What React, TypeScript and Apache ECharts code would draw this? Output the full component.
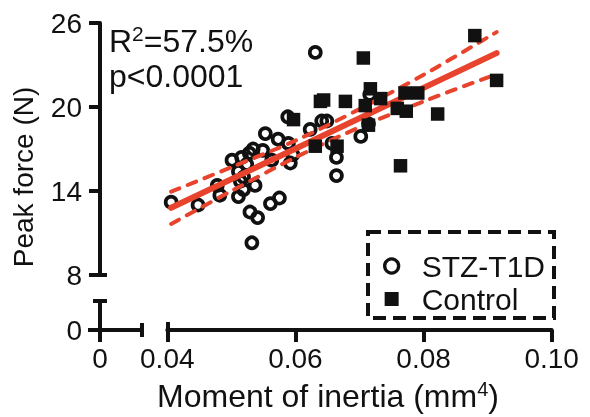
import React, { useEffect, useRef } from 'react';
import * as echarts from 'echarts';

// STZ-T1D (open circles)
const stzX = [0.0406, 0.0448, 0.0478, 0.0482, 0.0501, 0.0511, 0.0516, 0.0528, 0.0534, 0.0524, 0.0519, 0.0514, 0.0519, 0.0511, 0.0537, 0.0529, 0.0541, 0.0532, 0.0561, 0.0575, 0.0549, 0.0553, 0.0573, 0.0563, 0.0589, 0.0596, 0.0592, 0.0588, 0.0623, 0.0641, 0.0649, 0.0657, 0.0664, 0.0664, 0.0631, 0.0702, 0.0716, 0.0714];
const stzY = [13.2, 13.0, 14.4, 13.7, 16.2, 15.4, 16.4, 16.7, 17.0, 15.9, 15.0, 14.7, 14.1, 13.6, 14.4, 12.5, 12.1, 10.3, 13.1, 13.5, 16.9, 18.1, 17.7, 16.2, 17.4, 16.6, 16.0, 19.3, 18.4, 19.0, 19.0, 17.4, 16.4, 15.1, 23.9, 17.9, 20.9, 18.8];
// Control (filled squares)
const ctrlX = [0.0597, 0.0631, 0.0639, 0.0644, 0.0678, 0.0665, 0.0706, 0.0717, 0.0709, 0.0733, 0.0714, 0.0771, 0.0791, 0.0759, 0.0773, 0.0822, 0.0764, 0.0880, 0.0914];
const ctrlY = [19.1, 17.2, 20.4, 20.5, 20.4, 17.2, 23.5, 21.3, 20.1, 20.6, 18.7, 21.0, 21.0, 19.9, 19.7, 19.5, 15.8, 25.1, 21.9];
// Regression line and 95% band
const fitX = [0.0406, 0.0914];
const fitY = [12.8, 23.85];
const ciX = [0.0406, 0.05, 0.06, 0.07, 0.08, 0.0914];
const ciUpper = [13.95, 15.7, 17.6, 19.85, 22.3, 25.35];
const ciLower = [11.65, 14.0, 16.4, 18.55, 20.4, 22.35];
// Axis ranges / ticks
const xMainMin = 0.04, xMainMax = 0.10, xMainStep = 0.02;
const yMainMin = 8, yMainMax = 26, yMainStep = 6;
const xSmallMax = 0.0065625;
const ySmallMax = 2.0714;
const zeroTick = [0];

const INK = '#111111';
const RED = '#e8432d';
const FONT = "'Liberation Sans', Arial, Helvetica, sans-serif";

export default function App() {
  const ref = useRef<HTMLDivElement>(null);
  useEffect(() => {
    const chart = echarts.init(ref.current as HTMLDivElement, null, { renderer: 'svg' });
    const zip = (xs: number[], ys: number[]) => xs.map((x, i) => [x, ys[i]]);
    const line = { show: true, onZero: false, lineStyle: { color: INK, width: 4 } };
    const noLine = { show: false, onZero: false };
    const tickStyle = { color: INK, width: 4 };
    const label = { color: INK, fontSize: 28, fontFamily: FONT };
    const common = { type: 'value', splitLine: { show: false }, silent: true };

    const option: any = {
      animation: false,
      grid: [
        { left: 167.3, top: 23, width: 384.4, height: 252, outerBoundsMode: 'none' },
        { left: 100, top: 301, width: 42, height: 29, outerBoundsMode: 'none' },
      ],
      xAxis: [
        { ...common, gridIndex: 0, min: xMainMin, max: xMainMax, interval: xMainStep, position: 'bottom', offset: 55,
          axisLine: line, axisTick: { show: true, length: 12, lineStyle: tickStyle },
          axisLabel: { ...label, margin: 14, formatter: (v: number) => v.toFixed(2) } },
        { ...common, gridIndex: 0, min: xMainMin, max: xMainMax, interval: xMainStep, position: 'bottom', offset: 55,
          axisLine: noLine, axisTick: { show: true, inside: true, length: 8, lineStyle: tickStyle, customValues: [xMainMin] },
          axisLabel: { show: false } },
        { ...common, gridIndex: 1, min: 0, max: xSmallMax, position: 'bottom', offset: 0,
          axisLine: line, axisTick: { show: true, length: 12, lineStyle: tickStyle, customValues: zeroTick },
          axisLabel: { ...label, margin: 14, customValues: zeroTick, formatter: () => '0' } },
        { ...common, gridIndex: 1, min: 0, max: xSmallMax, position: 'bottom', offset: 0,
          axisLine: noLine, axisTick: { show: true, length: 7, lineStyle: tickStyle, customValues: [xSmallMax] },
          axisLabel: { show: false } },
        { ...common, gridIndex: 1, min: 0, max: xSmallMax, position: 'bottom', offset: 0,
          axisLine: noLine, axisTick: { show: true, inside: true, length: 7, lineStyle: tickStyle, customValues: [xSmallMax] },
          axisLabel: { show: false } },
      ],
      yAxis: [
        { ...common, gridIndex: 0, min: yMainMin, max: yMainMax, interval: yMainStep, position: 'left', offset: 67.3,
          axisLine: line, axisTick: { show: true, length: 11, lineStyle: tickStyle },
          axisLabel: { ...label, margin: 18 } },
        { ...common, gridIndex: 0, min: yMainMin, max: yMainMax, interval: yMainStep, position: 'left', offset: 67.3,
          axisLine: noLine, axisTick: { show: true, inside: true, length: 7, lineStyle: tickStyle, customValues: [yMainMin] },
          axisLabel: { show: false } },
        { ...common, gridIndex: 1, min: 0, max: ySmallMax, position: 'left', offset: 0,
          axisLine: line, axisTick: { show: true, length: 12, lineStyle: tickStyle, customValues: zeroTick },
          axisLabel: { ...label, margin: 18, customValues: zeroTick, formatter: () => '0' } },
        { ...common, gridIndex: 1, min: 0, max: ySmallMax, position: 'left', offset: 0,
          axisLine: noLine, axisTick: { show: true, length: 7, lineStyle: tickStyle, customValues: [ySmallMax] },
          axisLabel: { show: false } },
        { ...common, gridIndex: 1, min: 0, max: ySmallMax, position: 'left', offset: 0,
          axisLine: noLine, axisTick: { show: true, inside: true, length: 7, lineStyle: tickStyle, customValues: [ySmallMax] },
          axisLabel: { show: false } },
      ],
      legend: {
        left: 378, top: 246, orient: 'vertical', itemWidth: 14, itemHeight: 14, itemGap: 3,
        textStyle: { color: INK, fontSize: 30, fontFamily: FONT, lineHeight: 30, padding: [0, 0, 0, 18] },
        selectedMode: false,
        data: [
          { name: 'STZ-T1D', icon: 'circle', itemStyle: { color: 'rgba(0,0,0,0)', borderColor: INK, borderWidth: 3.3 } },
          { name: 'Control', icon: 'rect', itemStyle: { color: INK, borderWidth: 0 } },
        ],
      },
      series: [
        { name: 'STZ-T1D', type: 'scatter', xAxisIndex: 0, yAxisIndex: 0, data: zip(stzX, stzY), symbol: 'circle', symbolSize: 11,
          itemStyle: { color: 'rgba(0,0,0,0)', borderColor: INK, borderWidth: 3.7, opacity: 1 }, z: 2, silent: true },
        { name: 'upper', type: 'line', xAxisIndex: 0, yAxisIndex: 0, data: zip(ciX, ciUpper), symbol: 'none', smooth: 0.3,
          lineStyle: { color: RED, width: 4, type: [9, 9], cap: 'round' }, z: 3, silent: true },
        { name: 'lower', type: 'line', xAxisIndex: 0, yAxisIndex: 0, data: zip(ciX, ciLower), symbol: 'none', smooth: 0.3,
          lineStyle: { color: RED, width: 4, type: [9, 9], cap: 'round' }, z: 3, silent: true },
        { name: 'fit', type: 'line', xAxisIndex: 0, yAxisIndex: 0, data: zip(fitX, fitY), symbol: 'none',
          lineStyle: { color: RED, width: 6, cap: 'round' }, z: 3, silent: true },
        { name: 'Control', type: 'scatter', xAxisIndex: 0, yAxisIndex: 0, data: zip(ctrlX, ctrlY), symbol: 'rect', symbolSize: 13.5,
          itemStyle: { color: INK, opacity: 1 }, z: 4, silent: true },
      ],
      graphic: [
        { type: 'rect', shape: { x: 368, y: 232, width: 186, height: 86 },
          style: { fill: 'none', stroke: INK, lineWidth: 4, lineDash: [13, 7] }, z: 10 },
        { type: 'text', x: 109, y: 23, z: 10,
          style: { text: '{a|R}{s|2}{a|=57.5%}\n{a|p<0.0001}',
            rich: { a: { fontSize: 32, fontFamily: FONT, fill: INK, lineHeight: 35 },
                    s: { fontSize: 21, fontFamily: FONT, fill: INK, lineHeight: 21, verticalAlign: 'top', padding: [0, 0, 0, 0] } } } },
        { type: 'text', x: 328, y: 396, z: 10,
          style: { text: '{a|Moment of inertia (mm}{s|4}{a|)}', align: 'center', verticalAlign: 'middle',
            rich: { a: { fontSize: 32, fontFamily: FONT, fill: INK, lineHeight: 34 },
                    s: { fontSize: 20, fontFamily: FONT, fill: INK, lineHeight: 20, verticalAlign: 'top', padding: [0, 0, 0, 0] } } } },
        { type: 'text', x: 23, y: 177, rotation: Math.PI / 2, z: 10,
          style: { text: 'Peak force (N)', fontSize: 28, fontFamily: FONT, fill: INK, align: 'center', verticalAlign: 'middle' } },
      ],
    };
    chart.setOption(option);
    return () => chart.dispose();
  }, []);
  return <div ref={ref} style={{ position: 'fixed', left: 0, top: 0, width: 590, height: 417 }} />;
}
